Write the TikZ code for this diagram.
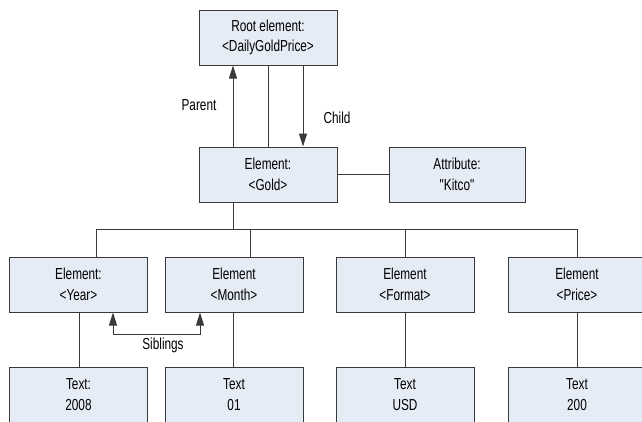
\documentclass[tikz,border=0pt]{standalone}
\usepackage{fontspec}
\setmainfont{Liberation Sans}
\newfontfamily\narrowfont[FakeStretch=0.74]{Liberation Sans}
\usetikzlibrary{arrows.meta}
\definecolor{boxfill}{HTML}{E6ECF6}
\definecolor{linecol}{HTML}{3A3A3A}
\tikzset{
  xmlbox/.style={draw=linecol, fill=boxfill, line width=1bp, minimum width=138bp, minimum height=55bp,
    inner sep=0pt, align=center, font=\narrowfont\fontsize{16}{20.5}\selectfont},
  conn/.style={draw=linecol, line width=1bp},
  tip/.style={Triangle[length=13bp,width=8bp]},
  arr/.style={conn, -{Triangle[length=13bp,width=8bp]}},
  lbl/.style={font=\narrowfont\fontsize{16}{20}\selectfont, inner sep=0pt}
}
\begin{document}
\begin{tikzpicture}[x=1bp,y=-1bp]
\useasboundingbox (0,0) rectangle (642,421);
\fill[white] (0,0) rectangle (642,421);
\clip (0,0) rectangle (642,421);
% boxes
\node[xmlbox] (root) at (268,37.5) {Root element:\\<DailyGoldPrice>};
\node[xmlbox] (gold) at (268,174.5) {Element:\\<Gold>};
\node[xmlbox, minimum width=136bp] (attr) at (457,174.5) {Attribute:\\"Kitco"};
\node[xmlbox] (year) at (78.5,284.5) {Element:\\<Year>};
\node[xmlbox] (month) at (234,284.5) {Element\\<Month>};
\node[xmlbox] (format) at (405,284.5) {Element\\<Format>};
\node[xmlbox] (price) at (577,284.5) {Element\\<Price>};
\node[xmlbox] (t2008) at (78.5,394.5) {Text:\\2008};
\node[xmlbox] (t01) at (234,394.5) {Text\\01};
\node[xmlbox] (tusd) at (405,394.5) {Text\\USD};
\node[xmlbox] (t200) at (577,394.5) {Text\\200};
% root-gold
\draw[arr] (gold.north -| 233,0) -- (root.south -| 233,0);
\draw[conn] (gold.north) -- (root.south);
\draw[arr] (root.south -| 303,0) -- (gold.north -| 303,0);
\node[lbl] (parent) at (199,105) {Parent};
\node[lbl] (child) at (337,118) {Child};
% gold-attribute
\draw[conn] (gold.east) -- (attr.west);
% bus
\coordinate (bus) at (233,229);
\draw[conn] (gold.south -| bus) -- (bus);
\draw[conn] (96,229) -- (577,229);
\draw[conn] (year.north -| 96,0) -- (96,229);
\draw[conn] (month.north -| 250,0) -- (250,229);
\draw[conn] (format.north) -- (format.north |- bus);
\draw[conn] (price.north) -- (price.north |- bus);
% element-text
\draw[conn] (year.south -| 79,0) -- (t2008.north -| 79,0);
\draw[conn] (month.south -| 233,0) -- (t01.north -| 233,0);
\draw[conn] (format.south) -- (tusd.north);
\draw[conn] (price.south) -- (t200.north);
% siblings
\coordinate (sa) at (113,334);
\coordinate (sb) at (200,334);
\draw[conn, {Triangle[length=13bp,width=8bp]}-{Triangle[length=13bp,width=8bp]}] (year.south -| sa) -- (sa) -- (sb) -- (month.south -| sb);
\node[lbl] (sib) at (163,345) {Siblings};
\end{tikzpicture}
\end{document}
